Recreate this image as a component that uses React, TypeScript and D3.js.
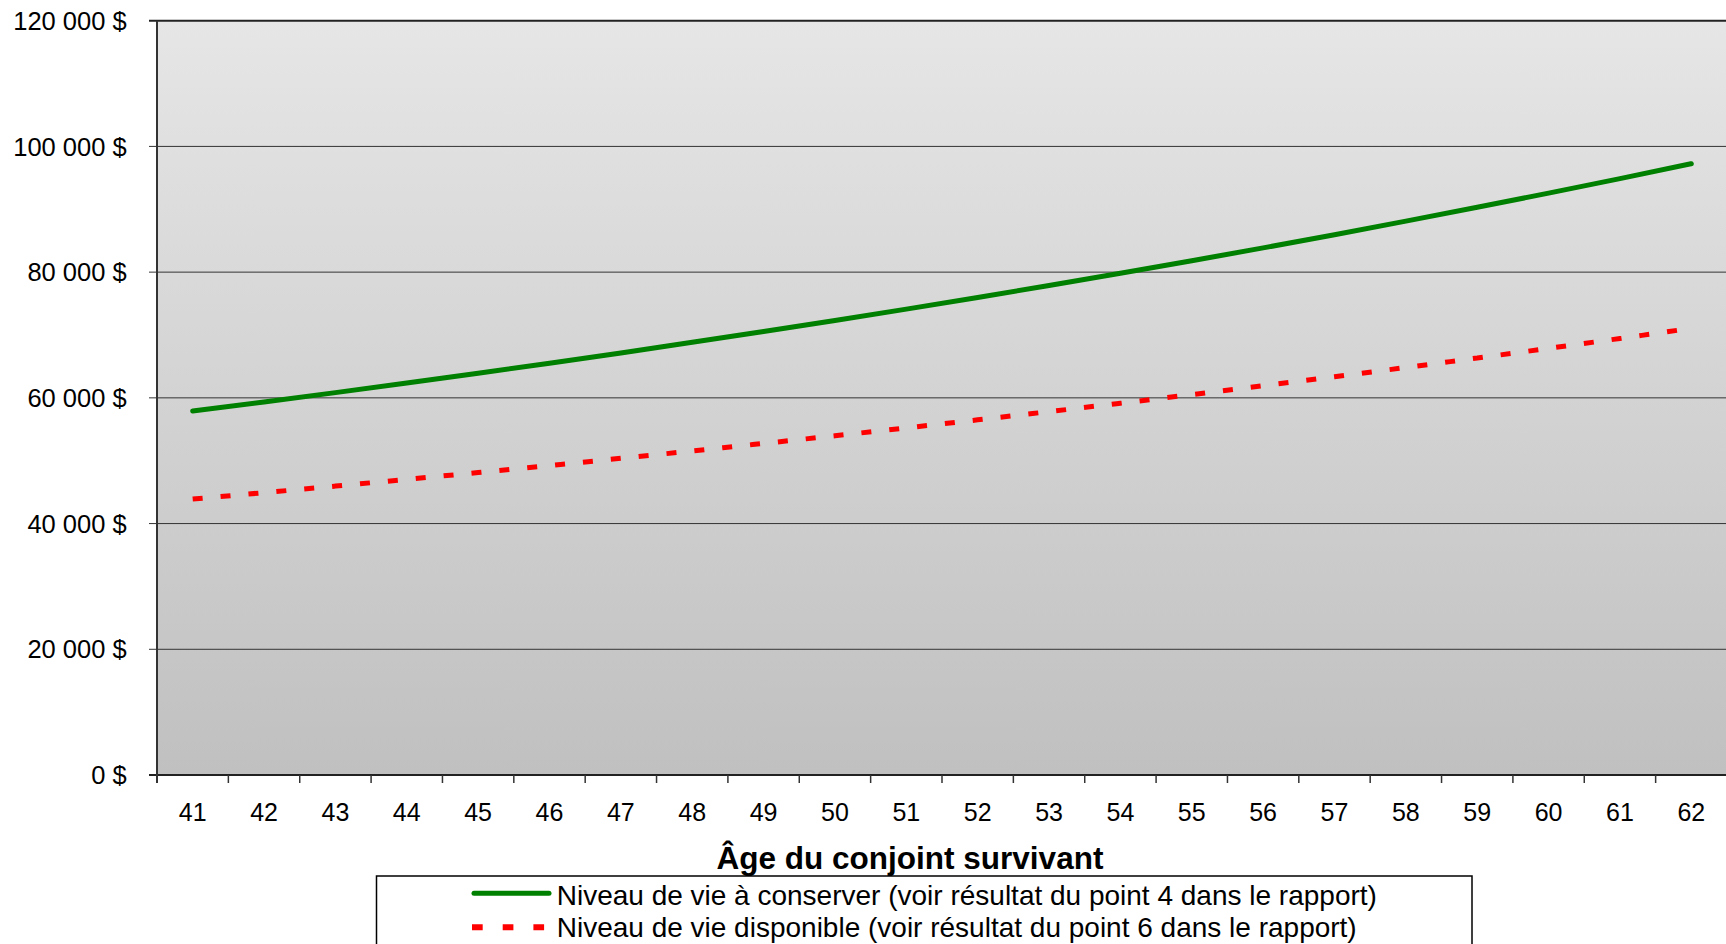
import React from "react";
import * as d3 from "d3";

const ages = [41,42,43,44,45,46,47,48,49,50,51,52,53,54,55,56,57,58,59,60,61,62];
const niveauConserver = [57900,59350,60830,62350,63910,65510,67150,68830,70550,72310,74120,75970,77870,79820,81820,83860,85960,88110,90310,92570,94880,97250];
const niveauDisponible = [43900,44920,45960,47030,48120,49240,50380,51550,52750,53970,55220,56500,57810,59150,60520,61930,63360,64830,66340,67870,69450,71060];
const yTicks = [0,20000,40000,60000,80000,100000,120000];
const xTitle = "Âge du conjoint survivant";
const legendLabels = [
  "Niveau de vie à conserver (voir résultat du point 4 dans le rapport)",
  "Niveau de vie disponible (voir résultat du point 6 dans le rapport)",
];

const W = 1726, H = 944;
const L = 157, R = 1727, T = 20.7, B = 775;
const font = "Arial, 'Liberation Sans', sans-serif";

const fmt = (v: number) => {
  const s = String(v).replace(/\B(?=(\d{3})+(?!\d))/g, " ");
  return s + " $";
};

export default function App() {
  const x = d3.scaleBand<number>().domain(ages).range([L, R]).paddingInner(0).paddingOuter(0);
  const y = d3.scaleLinear().domain([0, 120000]).range([B, T]);
  const cx = (a: number) => (x(a) as number) + x.bandwidth() / 2;
  const line = d3.line<number>()
    .x((_, i) => cx(ages[i]))
    .y((v) => y(v))
    .curve(d3.curveMonotoneX);

  const boundaries = ages.map((a) => x(a) as number).concat([R]);

  return (
    <div style={{ position: "fixed", left: 0, top: 0 }}>
      <svg width={W} height={H} style={{ display: "block" }}>
        <defs>
          <linearGradient id="bg" x1="0" y1="0" x2="0" y2="1">
            <stop offset="0" stopColor="#e6e6e6" />
            <stop offset="1" stopColor="#c0c0c0" />
          </linearGradient>
        </defs>
        <rect x={0} y={0} width={W} height={H} fill="#ffffff" />
        <rect x={L} y={T} width={R - L} height={B - T} fill="url(#bg)" />
        {yTicks.map((t) => (
          <g key={t}>
            <line x1={149} x2={R} y1={y(t)} y2={y(t)} stroke={t === 0 || t === 120000 ? "#222" : "#333"} strokeWidth={t === 0 || t === 120000 ? 2 : 1} />
            <text x={126.7} y={y(t)} dy="0.36em" textAnchor="end" fontFamily={font} fontSize={25.5} fill="#000">{fmt(t)}</text>
          </g>
        ))}
        <line x1={L} x2={L} y1={T} y2={B + 8} stroke="#333" strokeWidth={2} />
        {boundaries.map((b, i) => (
          <line key={i} x1={b} x2={b} y1={B} y2={B + 8} stroke="#333" strokeWidth={1.5} />
        ))}
        {ages.map((a) => (
          <text key={a} x={cx(a)} y={821} textAnchor="middle" fontFamily={font} fontSize={25} fill="#000">{a}</text>
        ))}
        <path d={line(niveauConserver) || ""} fill="none" stroke="#008000" strokeWidth={5} strokeLinecap="round" />
        <path d={line(niveauDisponible) || ""} fill="none" stroke="#ff0000" strokeWidth={5} strokeDasharray="10 18" />
        <text x={910} y={869} textAnchor="middle" fontFamily={font} fontSize={31.5} fontWeight="bold" fill="#000">{xTitle}</text>
        <rect x={376.5} y={876} width={1472 - 376.5} height={100} fill="#fff" stroke="#000" strokeWidth={1.5} />
        <line x1={474} x2={549} y1={893.3} y2={893.3} stroke="#008000" strokeWidth={5} strokeLinecap="round" />
        <line x1={472} x2={548} y1={927.3} y2={927.3} stroke="#ff0000" strokeWidth={6} strokeDasharray="10.7 20" />
        <text x={556.7} y={905} fontFamily={font} fontSize={28} fill="#000">{legendLabels[0]}</text>
        <text x={556.7} y={936.7} fontFamily={font} fontSize={28} fill="#000">{legendLabels[1]}</text>
      </svg>
    </div>
  );
}
